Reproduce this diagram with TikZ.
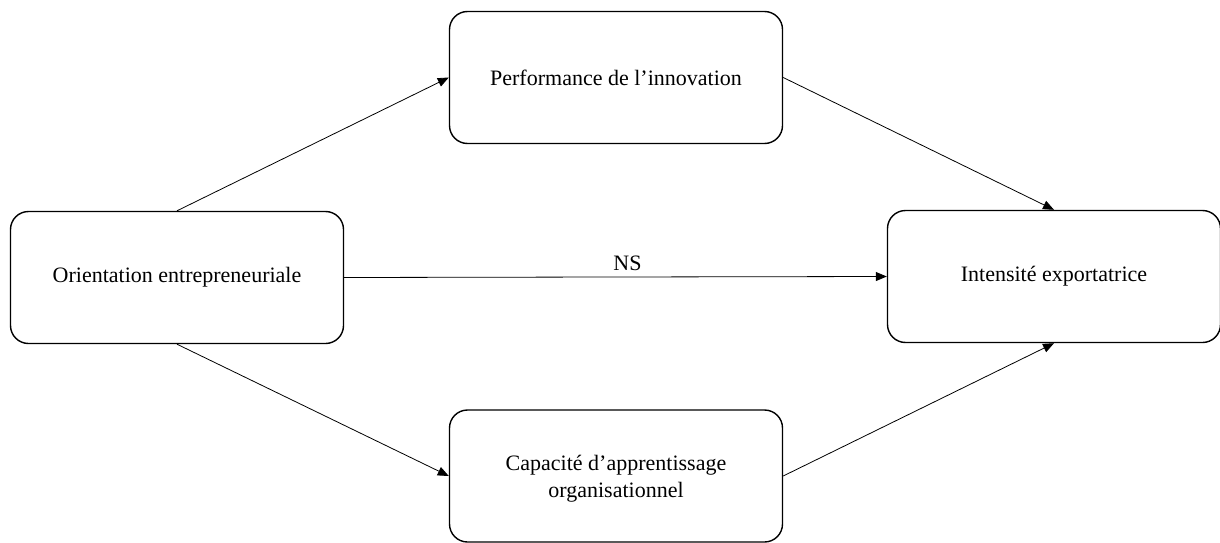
\documentclass[tikz,border=0pt]{standalone}
\usepackage{fontspec}
\setmainfont{Liberation Serif}
\usetikzlibrary{arrows.meta}
\begin{document}
\begin{tikzpicture}[x=1pt,y=-1pt,
  box/.style={draw, line width=1.4pt, rounded corners=18pt, minimum width=333pt, minimum height=132pt, inner sep=0pt, align=center, font=\fontsize{22}{27}\selectfont},
  conn/.style={line width=0.8pt, -{Triangle[length=11pt,width=9pt]}}]
\useasboundingbox (0,0) rectangle (1220,543);
\node[box] (oe) at (177,277.5) {Orientation entrepreneuriale};
\node[box] (pi) at (616,77.5) {Performance de l’innovation};
\node[box] (ie) at (1054,276.5) {Intensité exportatrice};
\node[box, label={[font=\fontsize{22}{27}\selectfont, align=center, yshift=-3pt]center:Capacité d’apprentissage\\organisationnel}] (ca) at (616,476) {};
\draw[conn] (oe.north) -- (pi.west);
\draw[conn] (pi.east) -- (ie.north);
\draw[conn] (oe.east) -- node[above=3pt, xshift=12pt, font=\fontsize{22}{25}\selectfont] (ns) {NS} (ie.west);
\draw[conn] (oe.south) -- (ca.west);
\draw[conn] (ca.east) -- (ie.south);
\end{tikzpicture}
\end{document}
